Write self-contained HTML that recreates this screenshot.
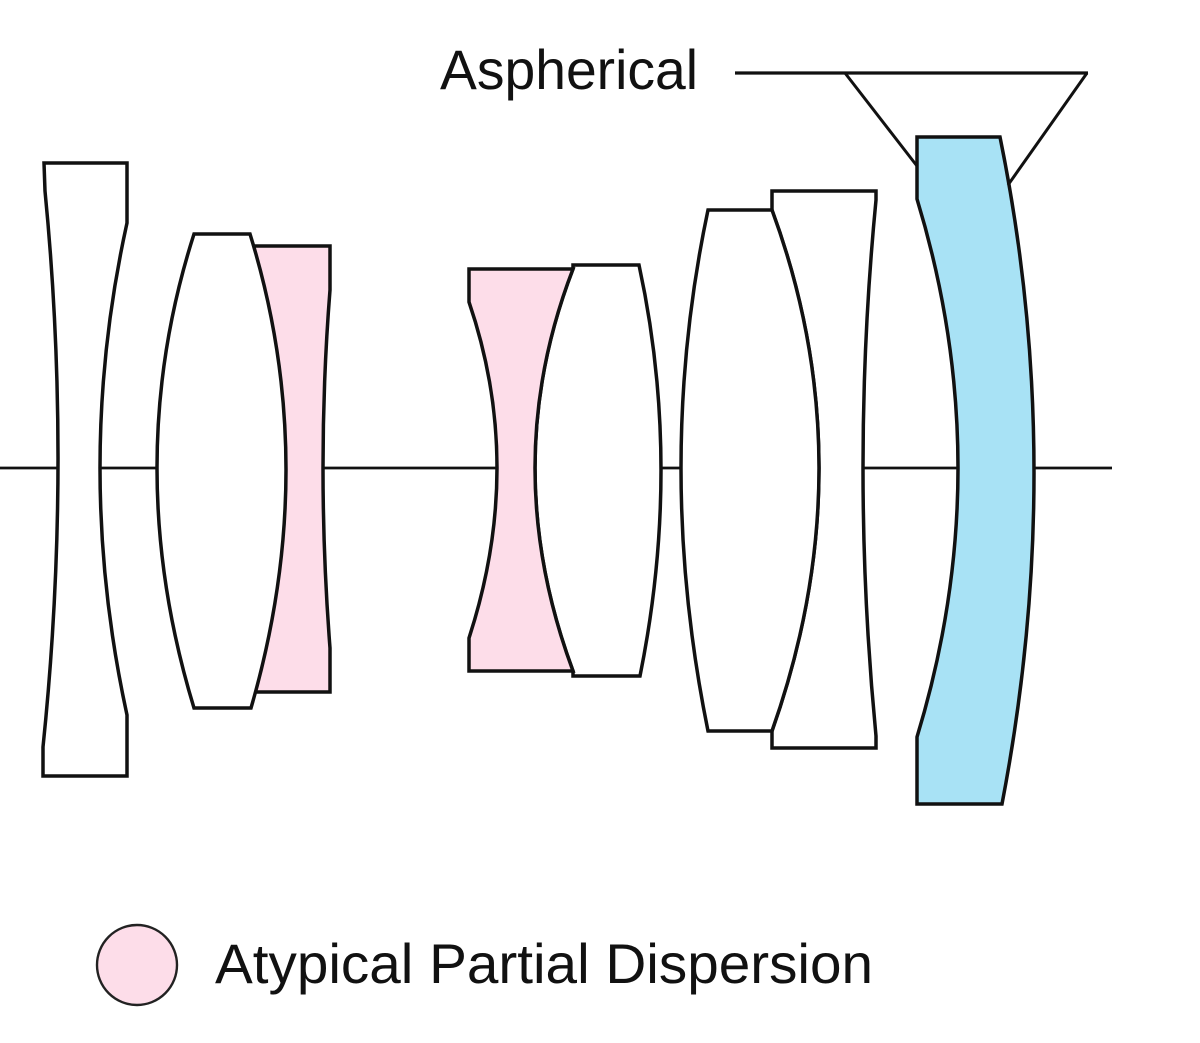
<!DOCTYPE html>
<html>
<head>
<meta charset="utf-8">
<style>
  html, body { margin: 0; padding: 0; background: #ffffff; }
  body { width: 1200px; height: 1043px; overflow: hidden; }
  svg { display: block; }
  text { font-family: "Liberation Sans", Arial, sans-serif; fill: #111; }
</style>
</head>
<body>
<svg width="1200" height="1043" viewBox="0 0 1200 1043" xmlns="http://www.w3.org/2000/svg">
  <rect x="0" y="0" width="1200" height="1043" fill="#ffffff"/>

  <!-- optical axis -->
  <line x1="0" y1="468" x2="1112" y2="468" stroke="#111" stroke-width="2.8"/>

  <g stroke="#111" stroke-width="3.5" stroke-linejoin="miter">
    <!-- Lens 1: biconcave white -->
    <path d="M44,163 L127,163 L127,223 Q73,467 127,715 L127,776 L43,776 L43,747 Q72,467 45,191 Z" fill="#ffffff"/>

    <!-- Lens 3: pink (cemented behind lens 2) -->
    <path d="M251,246 L330,246 L330,290 Q316,467 330,648 L330,692 L251,692 Z" fill="#fddde9"/>

    <!-- Lens 2: biconvex white -->
    <path d="M194,234 L250,234 Q321.5,465 251,708 L194,708 Q120,465 194,234 Z" fill="#ffffff"/>

    <!-- Lens 5: white -->
    <path d="M573,265 L639,265 Q682.5,465.5 640,676 L573,676 L573,671 Q497,466 573,269 Z" fill="#ffffff"/>

    <!-- Lens 4: pink biconcave -->
    <path d="M469,269 L573,269 Q497,466 573,671 L469,671 L469,638 Q525,466 469,302 Z" fill="#fddde9"/>

    <!-- Lens 7: white -->
    <path d="M772,191 L876,191 L876,200 Q850,468 876,736 L876,748 L772,748 L772,731 Q866,465.5 772,210 Z" fill="#ffffff"/>

    <!-- Lens 6: biconvex white -->
    <path d="M708,210 L772,210 Q866,465.5 772,731 L708,731 Q654,465.5 708,210 Z" fill="#ffffff"/>

    <!-- Lens 8: blue aspherical meniscus -->
    <path d="M917,137 L1000,137 Q1067,465.5 1002,804 L917,804 L917,737 Q999,468 917,199 Z" fill="#a8e2f5"/>
  </g>

  <!-- Aspherical callout -->
  <line x1="735" y1="73" x2="1088" y2="73" stroke="#111" stroke-width="3.2"/>
  <line x1="845" y1="73" x2="917" y2="166" stroke="#111" stroke-width="3"/>
  <line x1="1087" y1="73" x2="1008" y2="185" stroke="#111" stroke-width="3"/>
  <text x="440" y="89" font-size="56" textLength="258" lengthAdjust="spacingAndGlyphs">Aspherical</text>

  <!-- Legend -->
  <circle cx="137" cy="965" r="40" fill="#fddde9" stroke="#222" stroke-width="2.4"/>
  <text x="215" y="983" font-size="56" textLength="658" lengthAdjust="spacingAndGlyphs">Atypical Partial Dispersion</text>
</svg>
</body>
</html>
